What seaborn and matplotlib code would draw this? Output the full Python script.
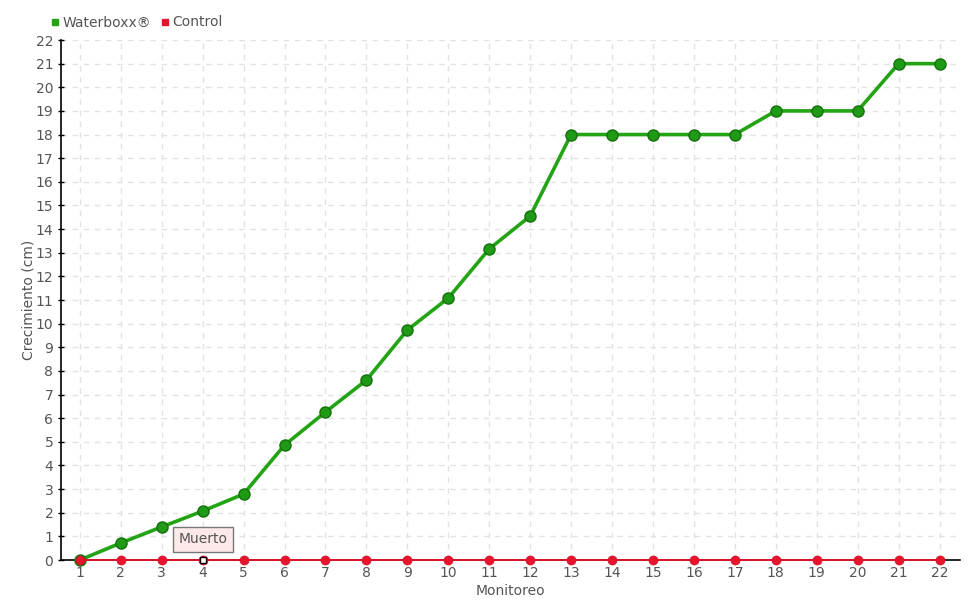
import pandas as pd
import matplotlib.pyplot as plt
import seaborn as sns

# datos
monitoreo = list(range(1, 23))
waterboxx = [0, 0.72, 1.4, 2.07, 2.79, 4.86, 6.26, 7.61, 9.73, 11.08, 13.16, 14.55,
             18, 18, 18, 18, 18, 19, 19, 19, 21, 21]
control = [0] * 22
yticks = list(range(0, 23))

df = pd.DataFrame({
    "Monitoreo": monitoreo * 2,
    "Crecimiento": waterboxx + control,
    "Serie": ["Waterboxx®"] * 22 + ["Control"] * 22,
})

sns.set_style("white")
plt.rcParams['font.family'] = ['DejaVu Sans']

fig = plt.figure(figsize=(9.8, 6), dpi=100)
ax = fig.add_axes([61 / 980, 40 / 600, 899 / 980, 520 / 600])

green = "#22a414"
red = "#e8132c"
txt = "#555555"

sns.lineplot(data=df[df.Serie == "Waterboxx®"], x="Monitoreo", y="Crecimiento",
             color=green, linewidth=2.6, marker="o", markersize=8,
             markerfacecolor="#1f9a14", markeredgecolor="#17700e", markeredgewidth=1,
             ax=ax, zorder=5, clip_on=False)
sns.lineplot(data=df[df.Serie == "Control"], x="Monitoreo", y="Crecimiento",
             color=red, linewidth=1.3, marker="o", markersize=6.5,
             markerfacecolor=red, markeredgecolor="#d01025", markeredgewidth=0.5,
             ax=ax, zorder=6, clip_on=False)

# punto "Muerto"
ax.plot([4], [0], marker="s", markersize=5, markerfacecolor="white",
        markeredgecolor="black", markeredgewidth=1, zorder=8, clip_on=False)
ax.annotate("Muerto", xy=(4, 0), xytext=(4, 0.88), ha="center", va="center",
            fontsize=10, color=txt, zorder=9,
            bbox=dict(boxstyle="square,pad=0.4", fc="#fde9e9", ec="#777777", lw=1))

ax.set_xlim(0.54, 22.5)
ax.set_ylim(0, 22)
ax.set_xticks(monitoreo)
ax.set_yticks(yticks)
ax.tick_params(axis="x", length=0, labelsize=10, labelcolor=txt, pad=4.5)
ax.tick_params(axis="y", length=5, direction="inout", width=1, color="black",
               labelsize=10, labelcolor=txt, pad=3, left=True)
ax.grid(True, linestyle=(0, (4, 4)), color="#e2e2e2", linewidth=1)
ax.set_axisbelow(True)
for s in ["top", "right"]:
    ax.spines[s].set_visible(False)
ax.spines["left"].set_color("black")
ax.spines["left"].set_linewidth(1.2)
ax.spines["bottom"].set_color("black")
ax.spines["bottom"].set_linewidth(1.2)

ax.set_xlabel("Monitoreo", fontsize=10, color=txt)
ax.set_ylabel("Crecimiento (cm)", fontsize=10, color=txt)
ax.xaxis.set_label_coords(0.5, -24 / 520)
ax.yaxis.set_label_coords(-26 / 899, 0.5)
if ax.get_legend():
    ax.get_legend().remove()

# leyenda
handles = [plt.Line2D([], [], marker="s", linestyle="", color=green, markersize=5),
           plt.Line2D([], [], marker="s", linestyle="", color=red, markersize=5)]
fig.legend(handles, ["Waterboxx®", "Control"], loc="upper left",
           bbox_to_anchor=(36 / 980, 1 - 3 / 600), ncol=2, frameon=False,
           handletextpad=0.0, columnspacing=0.5, fontsize=10,
           labelcolor=txt, handlelength=1.0)

fig.savefig("out.png", dpi=100)
